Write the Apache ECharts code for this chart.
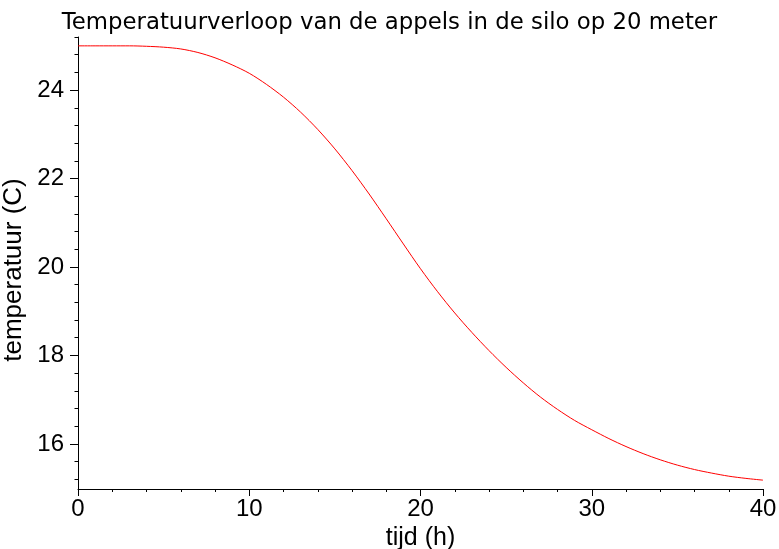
<!DOCTYPE html>
<html>
<head>
<meta charset="utf-8">
<script src="https://cdn.jsdelivr.net/npm/echarts@6/dist/echarts.min.js"></script>
<style>
html,body{margin:0;padding:0;background:#fff;}
#chart{width:779px;height:549px;}
</style>
</head>
<body>
<div id="chart"></div>
<script>
// Data
var timeHours = [0,1,2,3,4,5,6,7,8,9,10,11,12,13,14,15,16,17,18,19,20,21,22,23,24,25,26,27,28,29,30,31,32,33,34,35,36,37,38,39,40];
var temperature = [25.00,25.00,25.00,25.00,24.99,24.97,24.93,24.85,24.73,24.57,24.38,24.13,23.84,23.50,23.11,22.67,22.18,21.65,21.09,20.52,19.96,19.44,18.96,18.52,18.11,17.73,17.38,17.06,16.78,16.53,16.32,16.12,15.94,15.78,15.64,15.52,15.42,15.34,15.27,15.22,15.18];
var yMajorTicks = [16,18,20,22,24];
var xTickLabels = [0,10,20,30,40];
var titleText = 'Temperatuurverloop van de appels in de silo op 20 meter';
var xName = 'tijd (h)';
var yName = 'temperatuur (C)';

var yMinorTicks = [];
for (var i = 0; i <= 25; i++) {
  var v = Math.round((15.2 + i * 0.4) * 10) / 10;
  if (yMajorTicks.indexOf(v) < 0) yMinorTicks.push(v);
}
var seriesData = timeHours.map(function (t, i) { return [t, temperature[i]]; });

var FONT = 'Liberation Sans, Arial, sans-serif';
var chart = echarts.init(document.getElementById('chart'), null, {renderer: 'canvas'});
chart.setOption({
  animation: false,
  backgroundColor: '#ffffff',
  title: {
    text: titleText,
    left: 'center',
    top: 7,
    textStyle: {fontFamily: 'DejaVu Sans', fontSize: 22.8, fontWeight: 'normal', color: '#000'}
  },
  grid: {left: 78, right: 16, top: 37, bottom: 60, containLabel: false, outerBoundsMode: 'none'},
  xAxis: {
    type: 'value',
    min: 0, max: 40, interval: 10,
    name: xName,
    nameLocation: 'middle',
    nameGap: 27,
    nameTextStyle: {fontFamily: FONT, fontSize: 25, color: '#000', verticalAlign: 'top'},
    axisLine: {show: true, onZero: false, lineStyle: {color: '#000', width: 1}},
    axisTick: {show: true, inside: false, length: 7, lineStyle: {color: '#000', width: 1}},
    minorTick: {show: true, splitNumber: 5, length: 3, lineStyle: {color: '#000', width: 1}},
    axisLabel: {fontFamily: FONT, fontSize: 24, color: '#000', margin: 8, customValues: xTickLabels},
    splitLine: {show: false}
  },
  yAxis: [{
    type: 'value',
    min: 14.98, max: 25.2,
    name: yName,
    nameLocation: 'middle',
    nameRotate: 90,
    nameGap: 48,
    nameTextStyle: {fontFamily: FONT, fontSize: 26, color: '#000', padding: [0, 14, 0, 0]},
    axisLine: {show: true, onZero: false, lineStyle: {color: '#000', width: 1}},
    axisTick: {show: true, inside: false, length: 8, customValues: yMajorTicks, lineStyle: {color: '#000', width: 1}},
    axisLabel: {fontFamily: FONT, fontSize: 24, color: '#000', margin: 14, customValues: yMajorTicks},
    splitLine: {show: false}
  }, {
    type: 'value',
    position: 'left',
    min: 14.98, max: 25.2,
    axisLine: {show: false},
    axisTick: {show: true, inside: false, length: 3.5, customValues: yMinorTicks, lineStyle: {color: '#000', width: 1}},
    axisLabel: {show: false},
    splitLine: {show: false}
  }],
  series: [{
    type: 'line',
    data: seriesData,
    yAxisIndex: 0,
    showSymbol: false,
    smooth: 0.3,
    lineStyle: {color: '#ff0000', width: 1},
    itemStyle: {color: '#ff0000'}
  }]
});
</script>
</body>
</html>
